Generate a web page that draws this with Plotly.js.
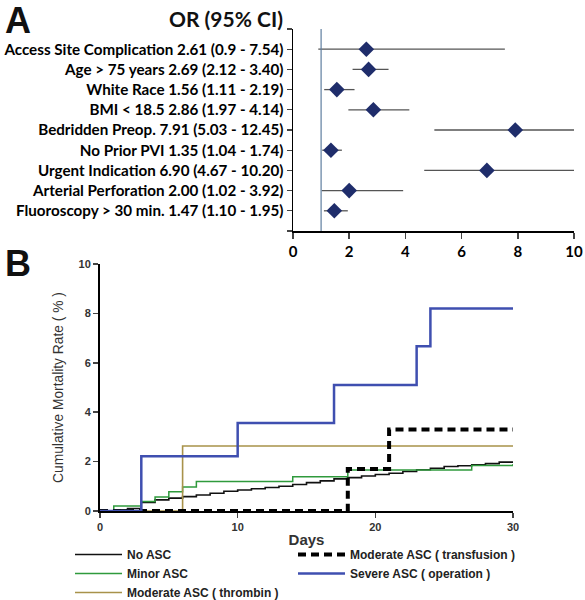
<!DOCTYPE html>
<html><head><meta charset="utf-8">
<script src="https://cdn.plot.ly/plotly-3.0.1.min.js"></script>
<style>body{margin:0;padding:0;background:#fff}#c{width:585px;height:600px}</style>
</head><body><div id="c"></div>
<script>
// Panel A: odds ratios
const factors = ["Access Site Complication 2.61 (0.9 - 7.54)","Age > 75 years 2.69 (2.12 - 3.40)","White Race 1.56 (1.11 - 2.19)","BMI < 18.5 2.86 (1.97 - 4.14)","Bedridden Preop. 7.91 (5.03 - 12.45)","No Prior PVI 1.35 (1.04 - 1.74)","Urgent Indication 6.90 (4.67 - 10.20)","Arterial Perforation 2.00 (1.02 - 3.92)","Fluoroscopy > 30 min. 1.47 (1.10 - 1.95)"];
const orVal = [2.61,2.69,1.56,2.86,7.91,1.35,6.90,2.00,1.47];
const ciLow = [0.9,2.12,1.11,1.97,5.03,1.04,4.67,1.02,1.10];
const ciHigh = [7.54,3.40,2.19,4.14,12.45,1.74,10.20,3.92,1.95];
const orTicks = [0,2,4,6,8,10];

// Panel B: cumulative mortality (%)
const daysNoASC = [0,1,2,3,4,5,6,7,8,9,10,11,12,13,14,15,16,17,18,19,20,21,22,23,24,25,26,27,28,29,30];
const noASC = [0,0.05,0.1,0.35,0.45,0.52,0.58,0.65,0.72,0.8,0.85,0.9,0.95,1.0,1.07,1.15,1.22,1.3,1.35,1.42,1.48,1.53,1.6,1.67,1.73,1.8,1.83,1.87,1.92,1.98,2.0];
const daysMinor = [0,1,3,4,5,6,7,14,18,27,30];
const minorASC = [0,0.2,0.38,0.57,0.78,0.97,1.19,1.39,1.66,1.84,1.9];
const daysThrombin = [0,6,30];
const thrombin = [0,2.63,2.63];
const daysTransfusion = [0,18,21,30];
const transfusion = [0,1.7,3.3,3.3];
const daysSevere = [0,3,10,17,23,24,30];
const severe = [0,2.22,3.56,5.1,6.67,8.2,8.2];

const rows = factors.map((_, i) => i + 1);
const W = 585, H = 600;
const px = v => v / W, py = v => 1 - v / H;

const traces = [
  {x: orVal, y: rows, xaxis:'x', yaxis:'y', type:'scatter', mode:'markers', showlegend:false,
   marker:{symbol:'diamond', size:12, color:'#1f2d6b'},
   error_x:{type:'data', symmetric:false, array: orVal.map((v,i)=>ciHigh[i]-v), arrayminus: orVal.map((v,i)=>v-ciLow[i]), width:0, color:'#555555', thickness:1.3},
   cliponaxis:false},
  {x: daysNoASC, y: noASC, xaxis:'x2', yaxis:'y2', mode:'lines', line:{shape:'hv', color:'#111111', width:1.6}, name:'No ASC', legendrank:1},
  {x: daysMinor, y: minorASC, xaxis:'x2', yaxis:'y2', mode:'lines', line:{shape:'hv', color:'#2f9a3c', width:1.5}, name:'Minor ASC', legendrank:3},
  {x: daysThrombin, y: thrombin, xaxis:'x2', yaxis:'y2', mode:'lines', line:{shape:'hv', color:'#a8924a', width:1.6}, name:'Moderate ASC ( thrombin )', legendrank:5},
  {x: daysTransfusion, y: transfusion, xaxis:'x2', yaxis:'y2', mode:'lines', line:{shape:'hv', color:'#000000', width:4, dash:'8px,5px'}, name:'Moderate ASC ( transfusion )', legendrank:2},
  {x: daysSevere, y: severe, xaxis:'x2', yaxis:'y2', mode:'lines', line:{shape:'hv', color:'#3f4fb0', width:2.5}, name:'Severe ASC ( operation )', legendrank:4}
];

const layout = {
  width: W, height: H, margin:{l:0,r:0,t:0,b:0, autoexpand:false},
  paper_bgcolor:'#ffffff', plot_bgcolor:'rgba(0,0,0,0)',
  font:{family:'Arial, Liberation Sans, sans-serif', color:'#222'},
  xaxis:{domain:[px(293), px(574)], range:[0,10], tickvals:orTicks, ticks:'outside', ticklen:6, tickwidth:1.5,
    showline:true, linecolor:'#000', linewidth:1.5, showgrid:false, zeroline:false,
    tickfont:{family:'Lato, sans-serif', size:15, color:'#000', weight:'bold'}, anchor:'y'},
  yaxis:{domain:[py(231), py(29)], range:[10,0], tickvals:[0].concat(rows).concat([10]), ticktext:[''].concat(factors).concat(['']),
    ticks:'outside', ticklen:5, tickwidth:1.2, showline:true, linecolor:'#000', linewidth:1.5, showgrid:false, zeroline:false,
    tickfont:{family:'Lato, sans-serif', size:15.2, color:'#000', weight:'bold'}, anchor:'x'},
  xaxis2:{domain:[px(100), px(513)], range:[0,30], tickvals:[0,10,20,30], ticks:'outside', ticklen:5, tickwidth:1.5,
    showline:true, linecolor:'#000', linewidth:2, showgrid:false, zeroline:false, anchor:'y2',
    tickfont:{family:'Arial, sans-serif', size:11, color:'#333', weight:'bold'},
    title:{text:'Days', font:{family:'Arial, sans-serif', size:15, color:'#333', weight:'bold'}, standoff:2}},
  yaxis2:{domain:[py(511), py(264)], range:[0,10], tickvals:[0,2,4,6,8,10], ticks:'outside', ticklen:5, tickwidth:1.5,
    showline:true, linecolor:'#000', linewidth:2, showgrid:false, zeroline:false, anchor:'x2',
    tickfont:{family:'Arial, sans-serif', size:11, color:'#333', weight:'bold'},
    title:{text:'Cumulative Mortality Rate ( % )', font:{family:'Arial, sans-serif', size:13.8, color:'#333'}, standoff:12}},
  shapes:[{type:'line', xref:'x', yref:'y', x0:1, x1:1, y0:0, y1:10, line:{color:'#5f7f9f', width:1.2}}],
  annotations:[
    {text:'A', xref:'paper', yref:'paper', x:px(3), y:py(-2), xanchor:'left', yanchor:'top', showarrow:false,
     font:{family:'Arial, sans-serif', size:36, color:'#111', weight:'bold'}},
    {text:'B', xref:'paper', yref:'paper', x:px(3), y:py(241), xanchor:'left', yanchor:'top', showarrow:false,
     font:{family:'Arial, sans-serif', size:36, color:'#111', weight:'bold'}},
    {text:'OR (95% CI)', xref:'paper', yref:'paper', x:px(285), y:py(18), xanchor:'right', yanchor:'middle', showarrow:false,
     font:{family:'Lato, sans-serif', size:21, color:'#111', weight:'bold'}}
  ],
  legend:{orientation:'h', x:px(70), y:py(540), xanchor:'left', yanchor:'top', entrywidth:161, itemwidth:47,
    font:{family:'Arial, sans-serif', size:12, color:'#222', weight:'bold'}, tracegroupgap:0, bgcolor:'rgba(0,0,0,0)'},
  showlegend:true
};
Plotly.newPlot('c', traces, layout, {staticPlot:true, displayModeBar:false});
</script></body></html>
